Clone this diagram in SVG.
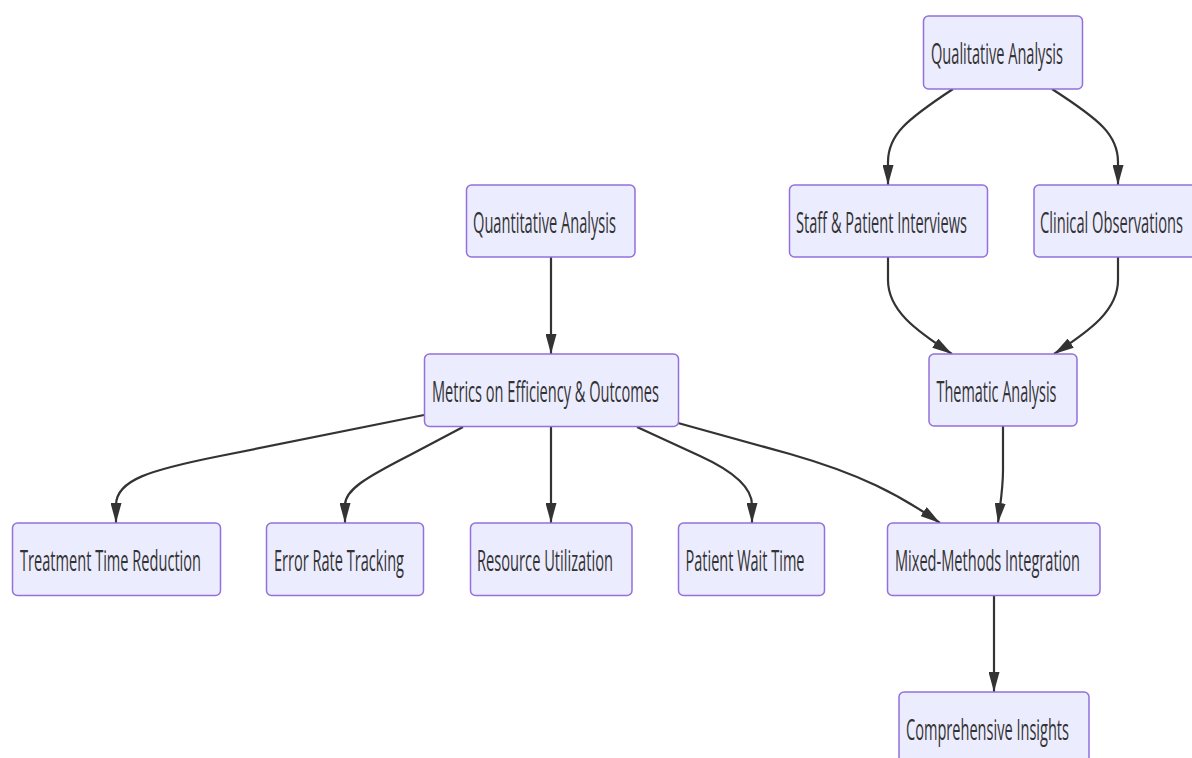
<svg xmlns="http://www.w3.org/2000/svg" width="1192" height="758" viewBox="0 0 1192 758">
<style>
.node rect{fill:#ECECFF;stroke:#9370DB;stroke-width:1.5}
.node text{font-family:"Open Sans","DejaVu Sans",sans-serif;font-size:29px;fill:#333}
.edges path{fill:none;stroke:#333;stroke-width:2.2;marker-end:url(#arr)}
</style>
<defs>
<marker id="arr" viewBox="0 0 20 11" refX="20" refY="5.5" markerWidth="20" markerHeight="11" markerUnits="userSpaceOnUse" orient="auto">
<path d="M0,0 L20,5.5 L0,11 z" fill="#333"/>
</marker>
</defs>
<rect width="1192" height="758" fill="#fff"/>
<g class="edges">
<path d="M953,89 C906,120 888,135 888,162 L888,185"/>
<path d="M1052,89 C1100,120 1118,135 1118,162 L1118,185"/>
<path d="M888,257 L888,280 C888,310 915,330 952,354"/>
<path d="M1118,257 L1118,280 C1118,310 1091,330 1054,354"/>
<path d="M551,257 L551,354"/>
<path d="M424,415 L220,456 C150,470 116,480 116,505 L116,523"/>
<path d="M463,427 L410,455 C365,478 345,490 345,505 L345,523"/>
<path d="M551,427 L551,523"/>
<path d="M637,427 L700,456 C735,472 752,488 752,505 L752,523"/>
<path d="M678,423 L790,454 C860,474 900,495 940,523"/>
<path d="M1003,426 L1003,470 C1003,490 1000,505 998,523"/>
<path d="M994,596 L994,692"/>
</g>
<g id="qual" class="node"><rect x="923.5" y="16" width="159" height="73" rx="5"/><text transform="translate(931,64) scale(0.5,1)" textLength="264" lengthAdjust="spacingAndGlyphs">Qualitative Analysis</text></g>
<g id="staff" class="node"><rect x="789.5" y="185" width="198" height="72" rx="5"/><text transform="translate(796,233) scale(0.5,1)" textLength="342" lengthAdjust="spacingAndGlyphs">Staff &amp; Patient Interviews</text></g>
<g id="clinical" class="node"><rect x="1034" y="185" width="170" height="72" rx="5"/><text transform="translate(1040,233) scale(0.5,1)" textLength="286" lengthAdjust="spacingAndGlyphs">Clinical Observations</text></g>
<g id="quant" class="node"><rect x="466.5" y="185" width="168.5" height="72" rx="5"/><text transform="translate(473,233) scale(0.5,1)" textLength="286" lengthAdjust="spacingAndGlyphs">Quantitative Analysis</text></g>
<g id="metrics" class="node"><rect x="424.5" y="354" width="254" height="72.5" rx="5"/><text transform="translate(432,402) scale(0.5,1)" textLength="454" lengthAdjust="spacingAndGlyphs">Metrics on Efficiency &amp; Outcomes</text></g>
<g id="thematic" class="node"><rect x="929" y="354" width="148" height="72" rx="5"/><text transform="translate(936.5,402) scale(0.5,1)" textLength="240" lengthAdjust="spacingAndGlyphs">Thematic Analysis</text></g>
<g id="treatment" class="node"><rect x="12.5" y="523" width="208" height="72.5" rx="5"/><text transform="translate(20,571) scale(0.5,1)" textLength="362" lengthAdjust="spacingAndGlyphs">Treatment Time Reduction</text></g>
<g id="error" class="node"><rect x="266.5" y="523" width="157" height="72.5" rx="5"/><text transform="translate(274,571) scale(0.5,1)" textLength="260" lengthAdjust="spacingAndGlyphs">Error Rate Tracking</text></g>
<g id="resource" class="node"><rect x="470.5" y="523" width="161.5" height="72.5" rx="5"/><text transform="translate(477,571) scale(0.5,1)" textLength="272" lengthAdjust="spacingAndGlyphs">Resource Utilization</text></g>
<g id="wait" class="node"><rect x="678.5" y="523" width="146" height="72.5" rx="5"/><text transform="translate(685.5,571) scale(0.5,1)" textLength="238" lengthAdjust="spacingAndGlyphs">Patient Wait Time</text></g>
<g id="mixed" class="node"><rect x="887.5" y="523" width="212.5" height="72.5" rx="5"/><text transform="translate(895,571) scale(0.5,1)" textLength="370" lengthAdjust="spacingAndGlyphs">Mixed-Methods Integration</text></g>
<g id="insights" class="node"><rect x="899" y="692" width="190" height="72.5" rx="5"/><text transform="translate(906,740) scale(0.5,1)" textLength="326" lengthAdjust="spacingAndGlyphs">Comprehensive Insights</text></g>
</svg>
